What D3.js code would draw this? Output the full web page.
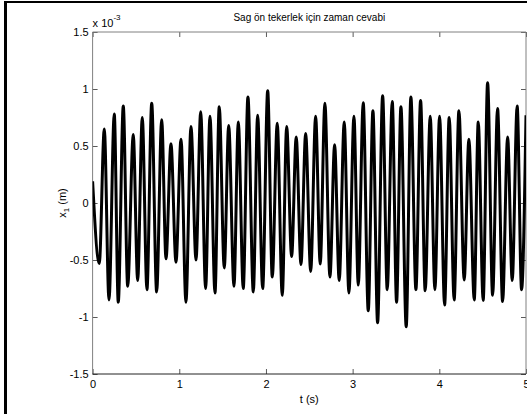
<!DOCTYPE html>
<html>
<head>
<meta charset="utf-8">
<script src="https://cdn.jsdelivr.net/npm/d3@7"></script>
<style>
  html, body { margin: 0; padding: 0; background: #fff; }
  svg { display: block; }
  text { font-family: "Liberation Sans", Arial, Helvetica, sans-serif; fill: #000; }
</style>
</head>
<body>
<svg id="chart" width="527" height="414"></svg>
<script>
// Response of the front-right wheel: successive extrema of x1 (in units of 1e-3 m)
const extremaTime = [
  0.000, 0.077, 0.135, 0.189, 0.250, 0.296, 0.354, 0.405, 0.469, 0.520,
  0.573, 0.627, 0.682, 0.739, 0.797, 0.847, 0.904, 0.962, 1.020, 1.077,
  1.135, 1.193, 1.247, 1.304, 1.354, 1.412, 1.461, 1.519, 1.570, 1.631,
  1.681, 1.738, 1.792, 1.854, 1.904, 1.962, 2.020, 2.073, 2.130, 2.188,
  2.239, 2.296, 2.349, 2.404, 2.458, 2.516, 2.573, 2.626, 2.680, 2.738,
  2.792, 2.845, 2.903, 2.957, 3.015, 3.065, 3.122, 3.180, 3.234, 3.288,
  3.346, 3.399, 3.457, 3.507, 3.557, 3.618, 3.672, 3.730, 3.784, 3.837,
  3.895, 3.949, 4.003, 4.061, 4.114, 4.171, 4.226, 4.287, 4.341, 4.403,
  4.449, 4.506, 4.557, 4.615, 4.672, 4.730, 4.788, 4.841, 4.898, 4.949,
  5.000
];
const extremaValue = [
   0.19, -0.53,  0.65, -0.85,  0.78, -0.87,  0.85, -0.73,  0.60, -0.68,
   0.75, -0.76,  0.875, -0.78, 0.73, -0.49,  0.52, -0.52,  0.56, -0.87,
   0.67, -0.50,  0.80, -0.75,  0.76, -0.79,  0.845, -0.57, 0.68, -0.73,
   0.71, -0.75,  0.93, -0.78,  0.77, -0.75,  0.985, -0.65, 0.70, -0.81,
   0.67, -0.47,  0.58, -0.54,  0.61, -0.60,  0.76, -0.535, 0.875, -0.65,
   0.51, -0.68,  0.71, -0.79,  0.76, -0.72,  0.88, -0.945, 0.81, -1.05,
   0.94, -0.76,  0.89, -0.87,  0.845, -1.085, 0.93, -0.76, 0.90, -0.77,
   0.76, -0.76,  0.76, -0.895, 0.75, -0.85,  0.81, -0.675, 0.56, -0.85,
   0.71, -0.855, 1.055, -0.81, 0.83, -0.865, 0.58, -0.68,  0.85, -0.76,
   0.77
];

const xTicks = [0, 1, 2, 3, 4, 5];
const xTickLabels = ["0", "1", "2", "3", "4", "5"];
const yTicks = [-1.5, -1, -0.5, 0, 0.5, 1, 1.5];
const yTickLabels = ["-1.5", "-1", "-0.5", "0", "0.5", "1", "1.5"];

const titleText = "Sag ön tekerlek için zaman cevabi";
const xLabelText = "t (s)";

const svg = d3.select("#chart");

// figure frame (left and top edges)
svg.append("rect").attr("x", 4).attr("y", 1).attr("width", 3).attr("height", 413).attr("fill", "#000");
svg.append("rect").attr("x", 4).attr("y", 1).attr("width", 523).attr("height", 2).attr("fill", "#000");

const plotLeft = 92.6, plotRight = 526, plotTop = 32, plotBottom = 374;
const x = d3.scaleLinear().domain([0, 5]).range([plotLeft, plotRight]);
const y = d3.scaleLinear().domain([-1.5, 1.5]).range([plotBottom, plotTop]);

const tickColor = "#5a5a5a";

function styleAxis(g) {
  g.select(".domain").remove();
  g.selectAll(".tick line").attr("stroke", tickColor);
  g.selectAll(".tick text").attr("fill", "#000").style("font-size", "11px")
    .attr("font-family", null);
}

// bottom axis with labels
svg.append("g").attr("transform", `translate(0,${plotBottom})`)
  .call(d3.axisBottom(x).tickValues(xTicks).tickFormat((d, i) => xTickLabels[i])
    .tickSizeInner(-5).tickSizeOuter(0).tickPadding(6))
  .call(styleAxis);
// left axis with labels
svg.append("g").attr("transform", `translate(${plotLeft},0)`)
  .call(d3.axisLeft(y).tickValues(yTicks).tickFormat((d, i) => yTickLabels[i])
    .tickSizeInner(-5).tickSizeOuter(0).tickPadding(4))
  .call(styleAxis);
// top and right axes: ticks only
svg.append("g").attr("transform", `translate(0,${plotTop})`)
  .call(d3.axisTop(x).tickValues(xTicks).tickFormat("").tickSizeInner(-5).tickSizeOuter(0))
  .call(styleAxis);
svg.append("g").attr("transform", `translate(${plotRight},0)`)
  .call(d3.axisRight(y).tickValues(yTicks).tickFormat("").tickSizeInner(-5).tickSizeOuter(0))
  .call(styleAxis);

// axes box
svg.append("line").attr("x1", plotLeft).attr("x2", plotRight).attr("y1", plotTop).attr("y2", plotTop).attr("stroke", "#808080");
svg.append("line").attr("x1", plotLeft).attr("x2", plotLeft).attr("y1", plotTop).attr("y2", plotBottom).attr("stroke", "#808080");
svg.append("line").attr("x1", plotRight).attr("x2", plotRight).attr("y1", plotTop).attr("y2", plotBottom).attr("stroke", "#808080");
svg.append("line").attr("x1", plotLeft).attr("x2", plotRight).attr("y1", plotBottom).attr("y2", plotBottom).attr("stroke", "#222");

// response curve
const points = extremaTime.map((t, i) => [t, extremaValue[i]]);
svg.append("defs").append("clipPath").attr("id", "plotClip")
  .append("rect").attr("x", plotLeft).attr("y", plotTop)
  .attr("width", plotRight - plotLeft).attr("height", plotBottom - plotTop);
svg.append("path")
  .datum(points)
  .attr("clip-path", "url(#plotClip)")
  .attr("fill", "none")
  .attr("stroke", "#000")
  .attr("stroke-width", 3)
  .attr("stroke-linejoin", "round")
  .attr("d", d3.line().x(d => x(d[0])).y(d => y(d[1])).curve(d3.curveMonotoneX));

// exponent marker
const expo = svg.append("text").attr("x", plotLeft).attr("y", 27).style("font-size", "11px");
expo.append("tspan").text("x 10");
expo.append("tspan").attr("dy", -7).style("font-size", "8px").text("-3");

// title
svg.append("text").attr("x", (plotLeft + plotRight) / 2).attr("y", 21)
  .attr("text-anchor", "middle").style("font-size", "10px").text(titleText);

// x label
svg.append("text").attr("x", (plotLeft + plotRight) / 2).attr("y", 403)
  .attr("text-anchor", "middle").style("font-size", "11px").text(xLabelText);

// y label with subscript
const yl = svg.append("text")
  .attr("transform", `translate(66,${(plotTop + plotBottom) / 2}) rotate(-90)`)
  .attr("text-anchor", "middle").style("font-size", "11px");
yl.append("tspan").text("x");
yl.append("tspan").attr("dy", 3).style("font-size", "8px").text("1");
yl.append("tspan").attr("dy", -3).text(" (m)");
</script>
</body>
</html>
